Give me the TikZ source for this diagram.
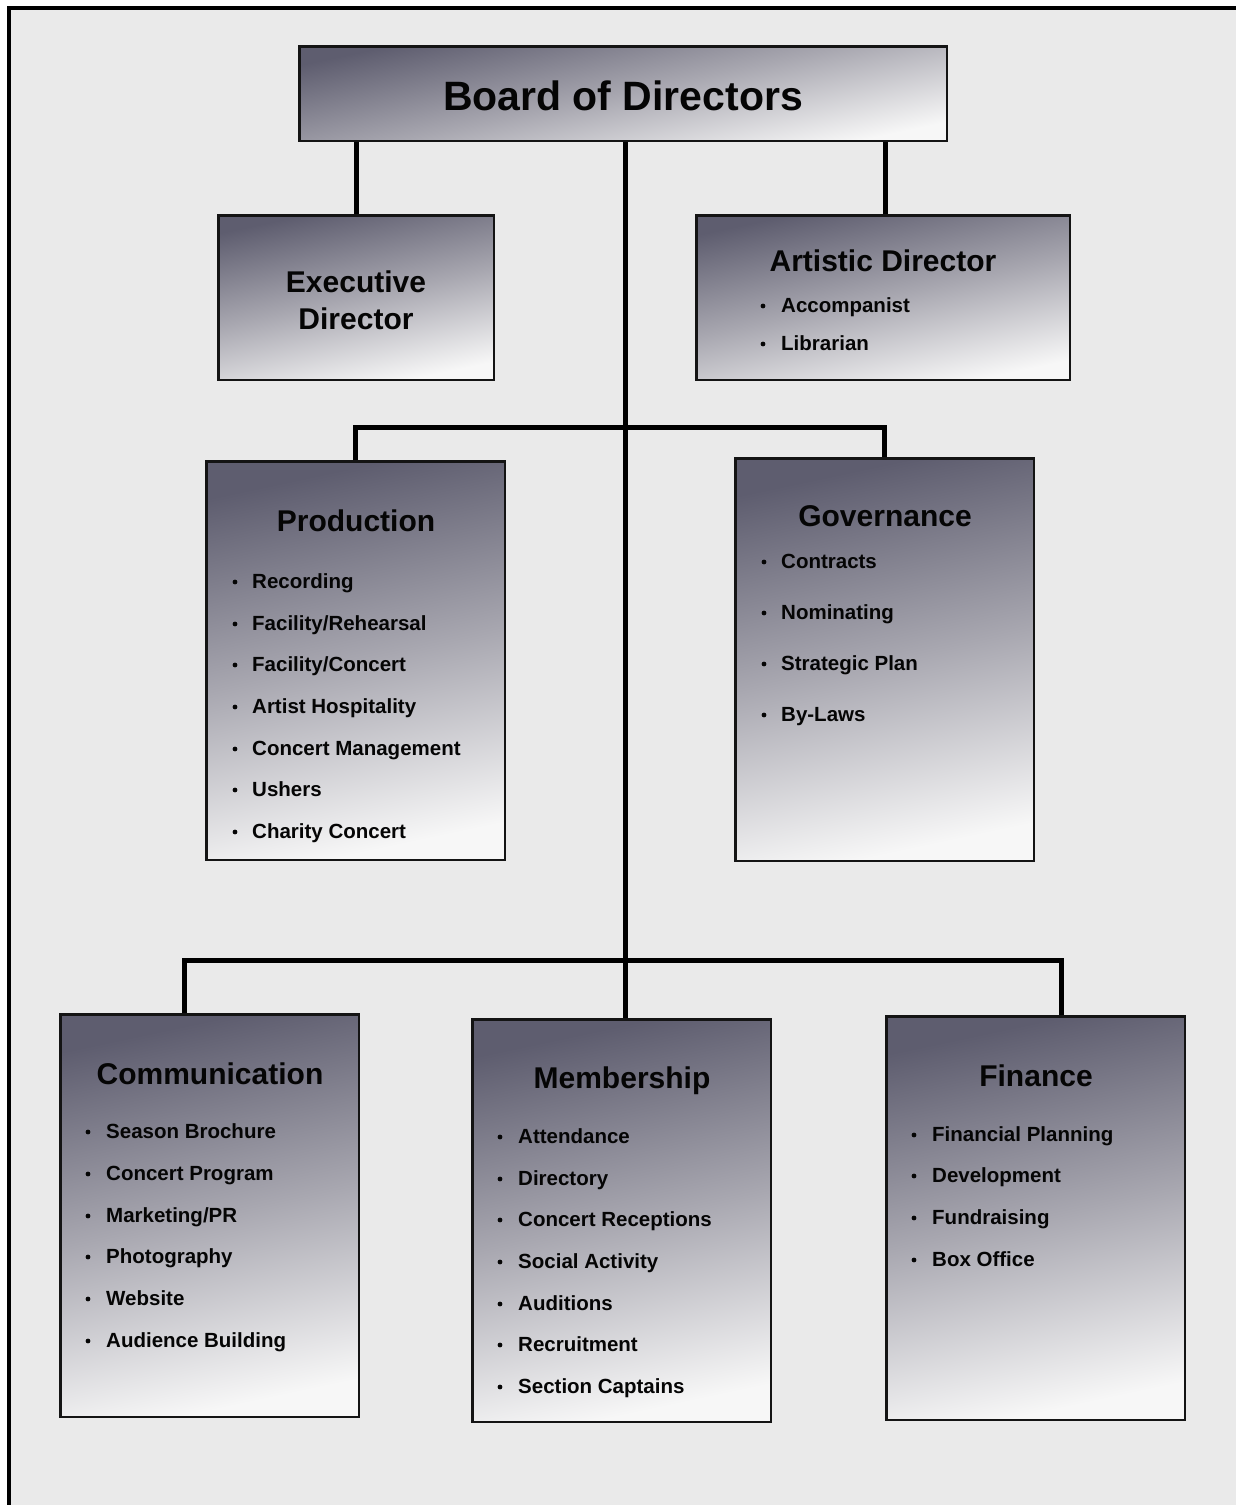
\documentclass[tikz,border=0pt]{standalone}
\usepackage{fontspec}
\setmainfont{Liberation Sans}
\definecolor{bg}{HTML}{EAEAEA}
\definecolor{btop}{HTML}{5E5D6F}
\definecolor{bmid}{HTML}{A8A7B0}
\definecolor{bbot}{HTML}{F7F7F7}
\definecolor{ink}{HTML}{050505}
\tikzset{
  box/.style={draw=black!92, line width=2.5pt, top color=btop, bottom color=bbot, middle color=bmid, shading angle=12, inner sep=0pt},
  conn/.style={line width=5pt, black, line join=miter},
  titletxt/.style={anchor=base, text=ink, font=\bfseries\fontsize{30}{37}\selectfont, inner sep=0pt},
  boardtxt/.style={anchor=base, text=ink, font=\bfseries\fontsize{41}{48}\selectfont, inner sep=0pt},
  itemtxt/.style={anchor=base west, text=ink, font=\bfseries\fontsize{20.5}{24}\selectfont, inner sep=0pt},
}
\newcommand\boxitems[4]{%
  \foreach \yy/\itxt [count=\ii] in {#4}{
    \node[itemtxt] (#1-\ii) at (#3,\yy+7) {\itxt};
    \fill[ink] (#2,\yy+1) circle (2.4pt);
  }}
\begin{document}
\begin{tikzpicture}[x=1pt,y=-1pt]
  \useasboundingbox (0,0) rectangle (1236,1505);
  \clip (0,0) rectangle (1236,1505);
  \fill[white] (0,0) rectangle (1236,1505);
  \fill[bg] (8.5,8) rectangle (1250,1520);
  \draw[line width=4pt] (8.5,1520) -- (8.5,8) -- (1250,8);

  % boxes
  \node[box, minimum width=647.5, minimum height=94.5] (board) at (623,93.5) {};
  \node[box, minimum width=275.5, minimum height=164.5] (exec) at (356,297.5) {};
  \node[box, minimum width=373.5, minimum height=164.5] (art) at (883,297.5) {};
  \node[box, minimum width=298.5, minimum height=398.5] (prod) at (355.5,660.5) {};
  \node[box, minimum width=298.5, minimum height=402.5] (gov) at (884.5,659.5) {};
  \node[box, minimum width=298.5, minimum height=402.5] (comm) at (209.5,1215.5) {};
  \node[box, minimum width=298.5, minimum height=402.5] (member) at (621.5,1220.5) {};
  \node[box, minimum width=298.5, minimum height=403.5] (fin) at (1035.5,1218) {};

  % connectors
  \coordinate (tk) at (625,0);
  \coordinate (j1) at (625,427);
  \coordinate (dL) at (184,960);
  \coordinate (dR) at (1061,960);
  \coordinate (artx) at (885,0);
  \draw[conn] (board.south -| tk) -- (member.north -| tk);
  \draw[conn] (exec.north |- board.south) -- (exec.north);
  \draw[conn] (board.south -| artx) -- (art.north -| artx);
  \draw[conn] (prod.north) -- (prod.north |- j1) -- (gov.north |- j1) -- (gov.north);
  \draw[conn] (comm.north -| dL) -- (dL) -- (dR) -- (fin.north -| dR);

  % titles
  \node[boardtxt] (tboard) at (623,110) {Board of Directors};
  \node[titletxt] (texec1) at (356,292) {Executive};
  \node[titletxt] (texec2) at (356,329) {Director};
  \node[titletxt] (tart) at (883,271) {Artistic Director};
  \node[titletxt] (tprod) at (356,531) {Production};
  \node[titletxt] (tgov) at (885,526) {Governance};
  \node[titletxt] (tcomm) at (210,1084) {Communication};
  \node[titletxt] (tmem) at (622,1088) {Membership};
  \node[titletxt] (tfin) at (1036,1086) {Finance};

  % items
  \boxitems{art}{763}{781}{305/Accompanist, 343/Librarian}
  \boxitems{prod}{235}{252}{581/Recording, 623/{Facility/Rehearsal}, 664/{Facility/Concert}, 706/Artist Hospitality, 748/Concert Management, 789/Ushers, 831/Charity Concert}
  \boxitems{gov}{764}{781}{561/Contracts, 612/Nominating, 663/Strategic Plan, 714/By-Laws}
  \boxitems{comm}{88}{106}{1131/Season Brochure, 1173/Concert Program, 1215/{Marketing/PR}, 1256/Photography, 1298/Website, 1340/Audience Building}
  \boxitems{member}{500}{518}{1136/Attendance, 1178/Directory, 1219/Concert Receptions, 1261/Social Activity, 1303/Auditions, 1344/Recruitment, 1386/Section Captains}
  \boxitems{fin}{914}{932}{1134/Financial Planning, 1175/Development, 1217/Fundraising, 1259/Box Office}
\end{tikzpicture}
\end{document}
